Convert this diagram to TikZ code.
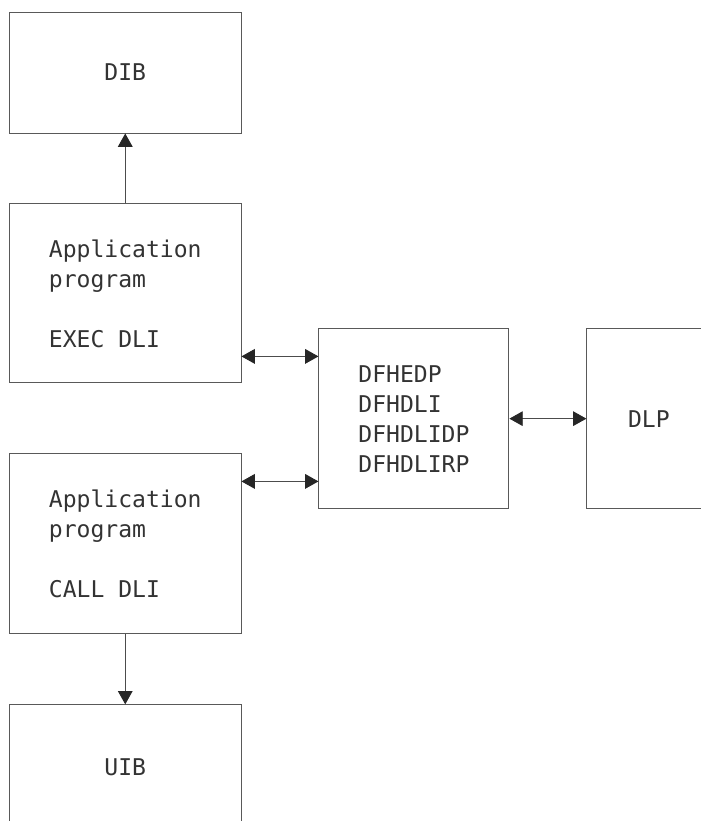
\documentclass[tikz,border=0pt]{standalone}
\usepackage{fontspec}
\setmonofont{DejaVu Sans Mono}
\usetikzlibrary{arrows.meta,positioning,calc}
\tikzset{
  blk/.style={draw=black!65, line width=0.7pt, align=left, inner sep=0pt, minimum width=173.6pt, text=black!80, font=\ttfamily\fontsize{17.3}{22.5}\selectfont},
  arr/.style={-{Triangle[length=10pt,width=11pt,color=black!85]}, draw=black!70, line width=0.7pt},
  biarr/.style={{Triangle[length=10pt,width=11pt,color=black!85]}-{Triangle[length=10pt,width=11pt,color=black!85]}, draw=black!70, line width=0.7pt},
}
\begin{document}
\begin{tikzpicture}[x=0.75pt, y=-0.75pt, node distance=52.5pt and 57.75pt]
\useasboundingbox (0,0) rectangle (700,821);
\node[blk, minimum height=90.75pt] (dib) at (125.25,72.5) {DIB};
\node[blk, minimum height=134.25pt, below=of dib] (exec) {Application\\program\\[22.5pt]EXEC DLI};
\node[blk, minimum height=135pt, below=of exec] (call) {Application\\program\\[22.5pt]CALL DLI};
\node[blk, minimum height=93pt, below=of call] (uib) {UIB};
\coordinate (mid) at ($(exec.east)!0.5!(call.east)$);
\node[blk, minimum width=142.5pt, minimum height=135pt, right=of mid] (dfh) {DFHEDP\\DFHDLI\\DFHDLIDP\\DFHDLIRP};
\node[blk, minimum width=93pt, minimum height=135pt, right=of dfh] (dlp) {DLP};
\draw[arr] (exec) -- (dib);
\draw[arr] (call) -- (uib);
\draw[biarr] ([yshift=20.25pt]exec.south east) -- ([yshift=20.25pt]exec.south east -| dfh.west);
\draw[biarr] ([yshift=-21pt]call.north east) -- ([yshift=-21pt]call.north east -| dfh.west);
\draw[biarr] (dfh) -- (dlp);
\end{tikzpicture}
\end{document}
